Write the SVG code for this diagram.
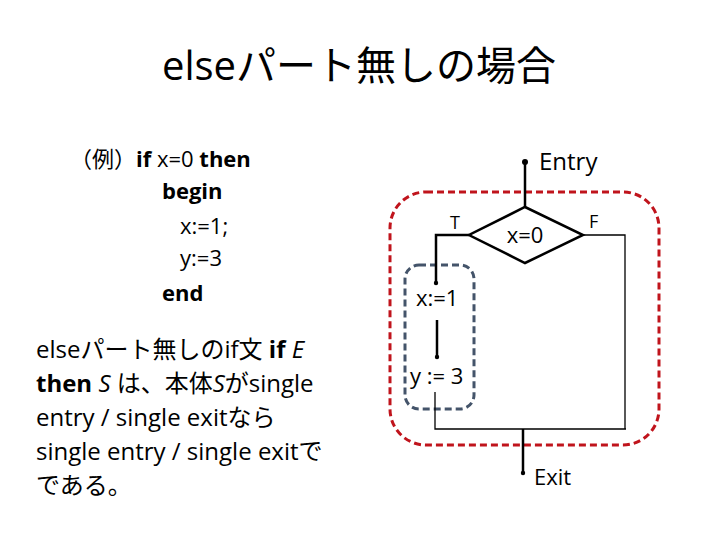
<svg xmlns="http://www.w3.org/2000/svg" width="720" height="540" viewBox="0 0 720 540">
<style>
text{font-family:"Open Sans","Liberation Sans","Noto Sans CJK JP",sans-serif;fill:#000}
.t{font-size:22px}
.d{font-size:24px}
.b{font-weight:bold}
.i{font-style:italic}
.thick{stroke:#000;stroke-width:2.5;fill:none}
.thin{stroke:#000;stroke-width:1.3;fill:none}
</style>
<rect width="720" height="540" fill="#fff"/>
<text x="359" y="80" font-size="40" text-anchor="middle">elseパート無しの場合</text>
<g id="code">
<text class="t" x="70" y="167">（例）<tspan class="b">if</tspan> x=0 <tspan class="b">then</tspan></text>
<text class="t b" x="162" y="199">begin</text>
<text class="t" x="180" y="234">x:=1;</text>
<text class="t" x="180" y="266">y:=3</text>
<text class="t b" x="162" y="301">end</text>
</g>
<g id="desc">
<text class="d" x="36" y="358">elseパート無しのif文 <tspan class="b">if</tspan> <tspan class="i">E</tspan></text>
<text class="d" x="36" y="392"><tspan class="b">then</tspan> <tspan class="i">S</tspan> は、本体<tspan class="i">S</tspan>がsingle</text>
<text class="d" x="36" y="426">entry / single exitなら</text>
<text class="d" x="36" y="460">single entry / single exitで</text>
<text class="d" x="36" y="494">である。</text>
</g>
<g id="regions">
<rect x="390" y="192" width="269" height="253" rx="36" fill="none" stroke="#c0141c" stroke-width="3" stroke-dasharray="7,4"/>
<rect x="405" y="265" width="69" height="144" rx="14" fill="none" stroke="#44546a" stroke-width="3" stroke-dasharray="7,4"/>
</g>
<g id="decision">
<polygon points="525,207 583,235 525,263 469,235" fill="#fff" stroke="#000" stroke-width="2.5"/>
<text x="525" y="243" font-size="22" text-anchor="middle">x=0</text>
</g>
<g id="s1"><text x="416" y="306" font-size="22">x:=1</text></g>
<g id="s2"><text x="410" y="384" font-size="22">y := 3</text></g>
<g id="connectors">
<circle cx="525" cy="162" r="3"/>
<line class="thick" x1="525" y1="162" x2="525" y2="207"/>
<polyline class="thick" points="469,235 436,235 436,283"/>
<circle cx="436" cy="283" r="2.2"/>
<line class="thick" x1="437" y1="320" x2="437" y2="357"/>
<circle cx="437" cy="357" r="2.2"/>
<polyline class="thin" points="583,235 625,235 625,429"/>
<polyline class="thin" points="435,392 435,429 626,429"/>
<line class="thick" x1="523" y1="429" x2="523" y2="473"/>
<circle cx="523" cy="473" r="2.2"/>
</g>
<g id="labels">
<text x="539" y="170" font-size="24">Entry</text>
<text x="450" y="229" font-size="18">T</text>
<text x="589" y="228" font-size="18">F</text>
<text x="534" y="485" font-size="22">Exit</text>
</g>
</svg>
